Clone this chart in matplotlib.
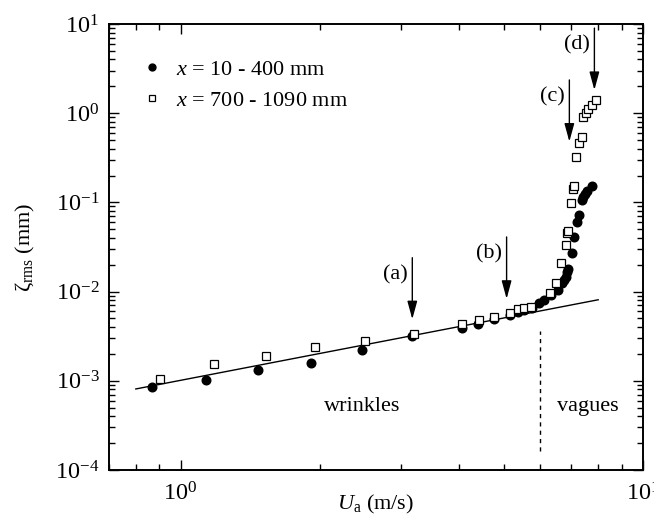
import matplotlib
matplotlib.use("Agg")
import matplotlib.pyplot as plt
from matplotlib.ticker import LogLocator, NullFormatter

plt.rcParams['font.family'] = ['Liberation Serif', 'DejaVu Serif']
plt.rcParams['mathtext.fontset'] = 'custom'
plt.rcParams['mathtext.rm'] = 'Liberation Serif'
plt.rcParams['mathtext.it'] = 'Liberation Serif:italic'
plt.rcParams['font.size'] = 16

# x = 10 - 400 mm (filled circles)
u_near = [0.866, 1.135, 1.469, 1.912, 2.47, 3.17, 4.06, 4.39, 4.77, 5.16, 5.37, 5.54,
          5.74, 5.95, 6.12, 6.34, 6.54, 6.68, 6.75, 6.82, 6.86, 6.90, 7.01, 7.09, 7.19,
          7.28, 7.37, 7.43, 7.49, 7.55, 7.74]
z_near = [8.6e-4, 1.02e-3, 1.32e-3, 1.60e-3, 2.21e-3, 3.18e-3, 3.87e-3, 4.33e-3, 4.99e-3,
          5.47e-3, 5.95e-3, 6.22e-3, 6.50e-3, 7.51e-3, 8.05e-3, 9.08e-3, 1.04e-2, 1.24e-2,
          1.35e-2, 1.47e-2, 1.64e-2, 1.78e-2, 2.73e-2, 4.06e-2, 5.98e-2, 7.23e-2, 0.106,
          0.114, 0.124, 0.134, 0.154]

# x = 700 - 1090 mm (open squares)
u_far = [0.904, 1.181, 1.53, 1.957, 2.505, 3.19, 4.06, 4.41, 4.77, 5.16, 5.36, 5.53, 5.72,
         6.29, 6.49, 6.65, 6.82, 6.86, 6.90, 7.00, 7.07, 7.09, 7.16, 7.28, 7.37, 7.43, 7.52,
         7.62, 7.74, 7.91]
z_far = [1.04e-3, 1.56e-3, 1.88e-3, 2.37e-3, 2.82e-3, 3.35e-3, 4.33e-3, 4.81e-3, 5.15e-3,
         5.69e-3, 6.38e-3, 6.55e-3, 6.67e-3, 9.72e-3, 1.26e-2, 2.07e-2, 3.30e-2, 4.57e-2,
         4.78e-2, 9.93e-2, 0.142, 0.153, 0.325, 0.467, 0.537, 0.90, 1.00, 1.12, 1.24, 1.41]

# linear fit line
u_fit = [0.8, 8.0]
z_fit = [8.1e-4, 8.1e-3]

# wrinkles / vagues boundary
u_bound = [6.0, 6.0]
z_bound = [1.65e-4, 3.65e-3]

# arrows (a)-(d)
arrow_labels = ['(a)', '(b)', '(c)', '(d)']
arrow_u = [3.17, 5.07, 6.93, 7.85]
arrow_top = [2.4e-2, 4.1e-2, 2.36, 9.0]
arrow_tip = [4.9e-3, 8.3e-3, 0.48, 1.82]

fig = plt.figure(figsize=(6.54, 5.21), dpi=100)
ax = fig.add_axes([109/654, 51/521, 534/654, 446/521])

ax.plot(u_fit, z_fit, color='black', lw=1.0)
ax.plot(u_bound, z_bound, color='black', lw=1.0, ls=(0, (3, 3)))
ax.plot(u_near, z_near, ls='none', marker='o', ms=6.2, color='black',
        label='$x$ = 10 - 400 mm')
ax.plot(u_far, z_far, ls='none', marker='s', ms=5.2, mfc='white', mec='black', mew=0.9,
        label='$x$ = 700 - 1090 mm')

for lab, u, zt, zb in zip(arrow_labels, arrow_u, arrow_top, arrow_tip):
    ax.annotate('', xy=(u, zb), xytext=(u, zt),
                arrowprops=dict(arrowstyle='-|>,head_length=1.1,head_width=0.3',
                                mutation_scale=10, color='black', lw=1.0,
                                shrinkA=0, shrinkB=0))
    ax.annotate(lab, xy=(u, zt), xytext=(-5, -17), textcoords='offset pixels',
                ha='right', va='center')

ax.text(2.475, 5.1e-4, 'wrinkles', ha='center', va='center')
ax.text(7.6, 5.1e-4, 'vagues', ha='center', va='center')

ax.set_xscale('log')
ax.set_yscale('log')
ax.set_xlim(0.7, 10)
ax.set_ylim(1e-4, 10)

ax.xaxis.set_major_locator(LogLocator(base=10, numticks=10))
ax.xaxis.set_minor_locator(LogLocator(base=10, subs=range(2, 10), numticks=20))
ax.yaxis.set_major_locator(LogLocator(base=10, numticks=10))
ax.yaxis.set_minor_locator(LogLocator(base=10, subs=range(2, 10), numticks=20))
ax.xaxis.set_minor_formatter(NullFormatter())
ax.yaxis.set_minor_formatter(NullFormatter())

ax.tick_params(which='both', direction='in', top=True, right=True, width=1.0)
ax.tick_params(which='major', length=7, labelsize=17.5)
ax.tick_params(which='minor', length=4)
ax.tick_params(axis='x', which='major', pad=9)
ax.tick_params(axis='y', which='major', pad=7)
for s in ax.spines.values():
    s.set_linewidth(1.4)

ax.set_xlabel('$U_{\\mathrm{a}}$ (m/s)')
ax.xaxis.set_label_coords(0.5, -0.052)
ax.set_ylabel('ζ$_{\\mathrm{rms}}$ (mm)')
ax.yaxis.set_label_coords(-0.135, 0.5)

ax.legend(loc='upper left', bbox_to_anchor=(0.03, 0.955), frameon=False,
          handlelength=1.0, handletextpad=0.6, labelspacing=0.45,
          markerscale=0.8, borderaxespad=0.3)

fig.savefig('out.png', dpi=100)
